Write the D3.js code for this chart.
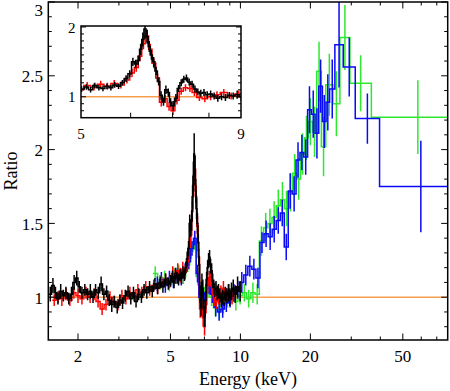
<!DOCTYPE html>
<html>
<head>
<meta charset="utf-8">
<script src="https://cdn.jsdelivr.net/npm/d3@7"></script>
<style>
  body { margin: 0; background: #fff; }
  text { font-family: "Liberation Serif", "Times New Roman", serif; fill: #000; }
</style>
</head>
<body>
<div id="my_dataviz"></div>
<script>
// black spectrum: bin edges (keV), data/model ratio, 1 sigma error
var blackEdges = [1.50,1.54,1.58,1.62,1.66,1.71,1.75,1.80,1.85,1.90,1.95,2.00,2.05,2.11,2.17,2.23,2.29,2.35,2.41,2.48,
  2.55,2.62,2.69,2.76,2.83,2.91,2.99,3.07,3.15,3.24,3.33,3.42,3.51,3.60,3.70,3.80,3.90,4.01,4.12,4.23,
  4.34,4.46,4.58,4.70,4.83,4.96,5.06,5.14,5.22,5.30,5.38,5.46,5.54,5.62,5.70,5.78,5.86,5.94,6.02,6.08,
  6.14,6.20,6.25,6.30,6.35,6.40,6.45,6.50,6.56,6.62,6.68,6.74,6.80,6.86,6.92,6.98,7.05,7.12,7.19,7.26,
  7.33,7.40,7.48,7.56,7.64,7.72,7.81,7.90,8.00,8.10,8.21,8.32,8.44,8.56,8.68,8.81,8.94,9.08,9.23,9.40,
  9.60,9.85,10.1];
var blackRatio = [1.02,1.08,1.03,0.99,1.04,1.01,1.03,0.99,1.02,1.10,1.13,1.07,1.03,1.05,1.02,1.04,1.00,1.05,1.03,1.09,
  1.02,1.04,0.98,0.95,0.97,0.93,0.98,0.96,1.01,1.04,0.99,1.03,0.97,1.02,1.00,1.05,1.03,1.07,1.04,1.09,
  1.06,1.10,1.07,1.12,1.09,1.11,1.14,1.10,1.16,1.13,1.12,1.15,1.13,1.17,1.15,1.20,1.26,1.33,1.50,1.47,
  1.52,1.68,1.82,1.97,1.86,1.72,1.60,1.50,1.37,1.22,1.02,0.93,1.10,1.06,0.92,0.87,0.98,1.12,1.20,1.25,
  1.27,1.21,1.18,1.11,1.07,1.05,1.06,1.03,1.04,1.01,0.98,1.00,0.99,1.02,1.01,1.03,1.00,1.04,1.06,1.02,
  1.07,1.04];
var blackErr = [0.05,0.05,0.04,0.04,0.05,0.04,0.04,0.04,0.05,0.05,0.05,0.04,0.04,0.04,0.04,0.05,0.04,0.04,0.04,0.05,
  0.04,0.04,0.04,0.05,0.04,0.04,0.04,0.04,0.04,0.04,0.04,0.04,0.04,0.04,0.04,0.04,0.04,0.04,0.04,0.04,
  0.04,0.04,0.04,0.04,0.04,0.04,0.04,0.04,0.04,0.04,0.04,0.04,0.04,0.04,0.04,0.04,0.05,0.05,0.06,0.06,
  0.07,0.08,0.10,0.14,0.10,0.08,0.07,0.07,0.06,0.06,0.06,0.06,0.06,0.06,0.06,0.07,0.06,0.05,0.05,0.05,
  0.05,0.05,0.05,0.05,0.05,0.05,0.05,0.05,0.05,0.05,0.05,0.05,0.05,0.05,0.05,0.06,0.06,0.06,0.06,0.06,
  0.07,0.07];

// red spectrum
var redEdges = [1.55,1.61,1.67,1.74,1.81,1.88,1.96,2.04,2.12,2.21,2.30,2.39,2.49,2.59,2.69,2.80,2.91,3.03,3.15,3.28,
  3.41,3.55,3.69,3.84,3.99,4.15,4.32,4.49,4.67,4.86,5.05,5.18,5.31,5.44,5.58,5.72,5.86,5.98,6.08,6.17,
  6.25,6.33,6.41,6.49,6.58,6.67,6.76,6.86,6.96,7.06,7.17,7.28,7.40,7.52,7.65,7.80,7.96,8.14,8.34,8.56,
  8.80,9.06,9.35,9.70];
var redRatio = [0.98,1.00,0.99,1.02,0.98,1.03,1.01,0.99,1.03,1.00,1.02,0.97,0.92,0.95,1.00,0.97,0.95,1.01,0.99,1.03,
  1.01,1.05,1.03,1.07,1.05,1.08,1.06,1.10,1.12,1.10,1.16,1.14,1.18,1.15,1.19,1.17,1.24,1.34,1.42,1.58,
  1.76,1.87,1.68,1.48,1.27,0.92,0.97,0.86,0.80,0.95,1.08,1.13,1.12,1.06,0.99,0.97,1.00,1.03,1.06,1.01,
  1.04,1.00,1.03];
var redErr = [0.04,0.04,0.05,0.04,0.04,0.04,0.05,0.04,0.04,0.04,0.04,0.04,0.04,0.04,0.04,0.04,0.04,0.04,0.04,0.04,
  0.04,0.04,0.04,0.04,0.04,0.04,0.04,0.04,0.04,0.04,0.05,0.05,0.05,0.05,0.05,0.05,0.05,0.06,0.06,0.07,
  0.08,0.09,0.08,0.07,0.06,0.06,0.06,0.06,0.06,0.06,0.05,0.05,0.05,0.05,0.05,0.05,0.05,0.05,0.05,0.05,
  0.05,0.05,0.05];

// green spectrum
var greenEdges = [4.20,4.40,4.61,4.83,5.06,5.30,5.55,5.81,6.05,6.25,6.45,6.66,6.88,7.12,7.38,7.66,7.96,8.28,8.62,8.98,
  9.36,9.76,10.18,10.62,11.08,11.56,12.06,12.58,13.12,13.68,14.26,14.86,15.48,16.12,16.78,17.46,18.16,18.88,19.62,20.40,
  21.30,22.30,23.30,25.00,26.80,29.60,36.60,92.0];
var greenRatio = [1.16,1.10,1.13,1.09,1.15,1.17,1.14,1.22,1.31,1.37,1.14,0.98,1.01,1.06,1.00,0.93,0.91,0.95,0.99,1.02,
  0.97,1.01,1.03,0.99,1.03,1.02,1.38,1.47,1.50,1.54,1.62,1.66,1.60,1.71,1.84,1.80,1.97,2.08,2.19,2.12,
  2.53,2.02,2.44,2.31,2.76,2.45,2.22];
var greenErr = [0.05,0.05,0.05,0.05,0.05,0.05,0.05,0.05,0.05,0.05,0.06,0.06,0.06,0.06,0.06,0.06,0.06,0.06,0.06,0.06,
  0.06,0.06,0.06,0.06,0.07,0.07,0.10,0.10,0.10,0.11,0.11,0.12,0.12,0.13,0.13,0.14,0.14,0.15,0.16,0.17,
  0.20,0.20,0.21,0.22,0.22,0.19,0.25];

// blue spectrum
var blueEdges = [4.30,4.48,4.66,4.85,5.05,5.25,5.46,5.68,5.90,6.10,6.28,6.45,6.62,6.80,7.00,7.22,7.45,7.70,7.96,8.24,
  8.54,8.86,9.20,9.56,9.94,10.34,10.76,11.20,11.66,12.14,12.64,13.16,13.70,14.26,14.84,15.44,16.06,16.70,17.36,18.04,
  18.74,19.46,20.20,20.96,21.74,22.54,23.36,24.20,25.50,27.70,31.20,39.70,90.0];
var blueRatio = [1.09,1.12,1.08,1.13,1.11,1.15,1.13,1.18,1.24,1.33,1.40,1.16,1.00,0.97,1.03,1.08,1.02,0.93,0.90,0.92,
  0.96,0.99,1.03,1.05,1.10,1.15,1.21,1.19,1.13,1.37,1.43,1.41,1.46,1.52,1.57,1.34,1.72,1.70,1.93,1.98,
  1.95,2.27,2.24,2.11,2.43,2.19,2.32,2.41,2.71,2.56,2.21,1.75];
var blueErr = [0.05,0.05,0.05,0.05,0.05,0.05,0.05,0.05,0.05,0.05,0.05,0.06,0.06,0.06,0.06,0.06,0.06,0.06,0.06,0.06,
  0.06,0.06,0.06,0.06,0.07,0.07,0.07,0.07,0.07,0.07,0.09,0.09,0.09,0.09,0.09,0.09,0.12,0.12,0.12,0.12,
  0.12,0.16,0.16,0.17,0.18,0.18,0.19,0.20,0.29,0.20,0.17,0.31];

// model level and tick labels
var modelLevel = 1;
var xTickLabels = [2, 5, 10, 20, 50];
var yTickLabels = [1, 1.5, 2, 2.5, 3];
var insetXTickLabels = [5, 9];
var insetYTickLabels = [1, 2];

var width = 450, height = 391;

var svg = d3.select("#my_dataviz")
  .append("svg")
  .attr("width", width)
  .attr("height", height);

svg.append("rect").attr("width", width).attr("height", height).attr("fill", "#fff");

// main scales
var x = d3.scaleLog().domain([1.49, 78]).range([48.3, 447.7]);
var y = d3.scaleLinear().domain([0.71, 3]).range([340, 2]);

// inset scales
var xi = d3.scaleLog().domain([5, 9]).range([81, 241]);
var yi = d3.scaleLinear().domain([0.7, 2.014]).range([117.7, 26]);

var series = [
  {name: "green", edges: greenEdges, ratio: greenRatio, err: greenErr, color: "#2ee82e", inset: false},
  {name: "blue", edges: blueEdges, ratio: blueRatio, err: blueErr, color: "#0a0af5", inset: false},
  {name: "red", edges: redEdges, ratio: redRatio, err: redErr, color: "#ff0000", inset: true},
  {name: "black", edges: blackEdges, ratio: blackRatio, err: blackErr, color: "#000000", inset: true}
];

var defs = svg.append("defs");
defs.append("clipPath").attr("id", "clipMain")
  .append("rect")
  .attr("x", x.range()[0]).attr("y", y.range()[1])
  .attr("width", x.range()[1] - x.range()[0]).attr("height", y.range()[0] - y.range()[1]);
defs.append("clipPath").attr("id", "clipInset")
  .append("rect")
  .attr("x", xi.range()[0]).attr("y", yi.range()[1])
  .attr("width", xi.range()[1] - xi.range()[0]).attr("height", yi.range()[0] - yi.range()[1]);

// draws one spectrum as a step histogram with error bars
function drawSeries(g, s, xs, ys) {
  var pts = s.ratio.map(function(v, i) { return [s.edges[i], v]; });
  pts.push([s.edges[s.edges.length - 1], s.ratio[s.ratio.length - 1]]);
  var line = d3.line()
    .x(function(d) { return xs(d[0]); })
    .y(function(d) { return ys(d[1]); })
    .curve(d3.curveStepAfter);
  g.append("path")
    .attr("d", line(pts))
    .attr("fill", "none")
    .attr("stroke", s.color)
    .attr("stroke-width", 1.5);
  g.selectAll("line.err-" + s.name)
    .data(s.ratio)
    .enter()
    .append("line")
    .attr("class", "err-" + s.name)
    .attr("x1", function(d, i) { return xs(Math.sqrt(s.edges[i] * s.edges[i + 1])); })
    .attr("x2", function(d, i) { return xs(Math.sqrt(s.edges[i] * s.edges[i + 1])); })
    .attr("y1", function(d, i) { return ys(d - s.err[i]); })
    .attr("y2", function(d, i) { return ys(d + s.err[i]); })
    .attr("stroke", s.color)
    .attr("stroke-width", 1.5);
}

// main plot data
var main = svg.append("g").attr("clip-path", "url(#clipMain)");
main.append("line")
  .attr("x1", x.range()[0]).attr("x2", x.range()[1])
  .attr("y1", y(modelLevel)).attr("y2", y(modelLevel))
  .attr("stroke", "#f5a04e").attr("stroke-width", 1.5);
series.forEach(function(s) { drawSeries(main, s, x, y); });

// frame box
function frame(g, xs, ys) {
  g.append("rect")
    .attr("x", xs.range()[0]).attr("y", ys.range()[1])
    .attr("width", xs.range()[1] - xs.range()[0])
    .attr("height", ys.range()[0] - ys.range()[1])
    .attr("fill", "none").attr("stroke", "#000").attr("stroke-width", 1.5);
}

var axes = svg.append("g");
frame(axes, x, y);

// inward ticks on all four sides
var xMinor = [2,3,4,5,6,7,8,9,10,20,30,40,50,60,70];
xMinor.forEach(function(t) {
  var len = xTickLabels.indexOf(t) >= 0 ? 6.5 : 3.5;
  axes.append("line").attr("x1", x(t)).attr("x2", x(t))
    .attr("y1", y.range()[0]).attr("y2", y.range()[0] - len)
    .attr("stroke", "#000").attr("stroke-width", 1);
  axes.append("line").attr("x1", x(t)).attr("x2", x(t))
    .attr("y1", y.range()[1]).attr("y2", y.range()[1] + len)
    .attr("stroke", "#000").attr("stroke-width", 1);
});
d3.range(8, 31).forEach(function(k) {
  var t = k / 10;
  var major = k % 5 === 0;
  var len = major ? 6.5 : 3.5;
  axes.append("line").attr("x1", x.range()[0]).attr("x2", x.range()[0] + len)
    .attr("y1", y(t)).attr("y2", y(t)).attr("stroke", "#000").attr("stroke-width", 1);
  axes.append("line").attr("x1", x.range()[1]).attr("x2", x.range()[1] - len)
    .attr("y1", y(t)).attr("y2", y(t)).attr("stroke", "#000").attr("stroke-width", 1);
});

axes.selectAll("text.xlab")
  .data(xTickLabels)
  .enter()
  .append("text")
  .attr("class", "xlab")
  .attr("x", function(d) { return x(d); })
  .attr("y", 362)
  .attr("text-anchor", "middle")
  .attr("font-size", 17)
  .text(function(d) { return d; });

axes.selectAll("text.ylab")
  .data(yTickLabels)
  .enter()
  .append("text")
  .attr("class", "ylab")
  .attr("x", 43)
  .attr("y", function(d) { return Math.max(y(d) + 6.5, 15.5); })
  .attr("text-anchor", "end")
  .attr("font-size", 17)
  .text(function(d) { return d; });

svg.append("text")
  .attr("x", 248).attr("y", 385)
  .attr("text-anchor", "middle")
  .attr("font-size", 18)
  .text("Energy (keV)");

svg.append("text")
  .attr("transform", "translate(17,171) rotate(-90)")
  .attr("text-anchor", "middle")
  .attr("font-size", 18)
  .text("Ratio");

// inset: zoom on the iron line
var inset = svg.append("g");
inset.append("rect")
  .attr("x", xi.range()[0]).attr("y", yi.range()[1])
  .attr("width", xi.range()[1] - xi.range()[0]).attr("height", yi.range()[0] - yi.range()[1])
  .attr("fill", "#fff");
var insetData = inset.append("g").attr("clip-path", "url(#clipInset)");
insetData.append("line")
  .attr("x1", xi.range()[0]).attr("x2", xi.range()[1])
  .attr("y1", yi(modelLevel)).attr("y2", yi(modelLevel))
  .attr("stroke", "#f5a04e").attr("stroke-width", 1.5);
series.filter(function(s) { return s.inset; })
  .forEach(function(s) { drawSeries(insetData, s, xi, yi); });

frame(inset, xi, yi);
[6, 7, 8].forEach(function(t) {
  inset.append("line").attr("x1", xi(t)).attr("x2", xi(t))
    .attr("y1", yi.range()[0]).attr("y2", yi.range()[0] - 5)
    .attr("stroke", "#000").attr("stroke-width", 1);
});
d3.range(8, 21).forEach(function(k) {
  var t = k / 10;
  var len = k % 10 === 0 ? 5 : 3;
  inset.append("line").attr("x1", xi.range()[0]).attr("x2", xi.range()[0] + len)
    .attr("y1", yi(t)).attr("y2", yi(t)).attr("stroke", "#000").attr("stroke-width", 1);
  inset.append("line").attr("x1", xi.range()[1]).attr("x2", xi.range()[1] - len)
    .attr("y1", yi(t)).attr("y2", yi(t)).attr("stroke", "#000").attr("stroke-width", 1);
});

inset.selectAll("text.ixlab")
  .data(insetXTickLabels)
  .enter()
  .append("text")
  .attr("class", "ixlab")
  .attr("x", function(d) { return xi(d); })
  .attr("y", 138.5)
  .attr("text-anchor", "middle")
  .attr("font-size", 15)
  .text(function(d) { return d; });

inset.selectAll("text.iylab")
  .data(insetYTickLabels)
  .enter()
  .append("text")
  .attr("class", "iylab")
  .attr("x", 75.5)
  .attr("y", function(d) { return Math.max(yi(d) + 5.5, 33); })
  .attr("text-anchor", "end")
  .attr("font-size", 15)
  .text(function(d) { return d; });
</script>
</body>
</html>
